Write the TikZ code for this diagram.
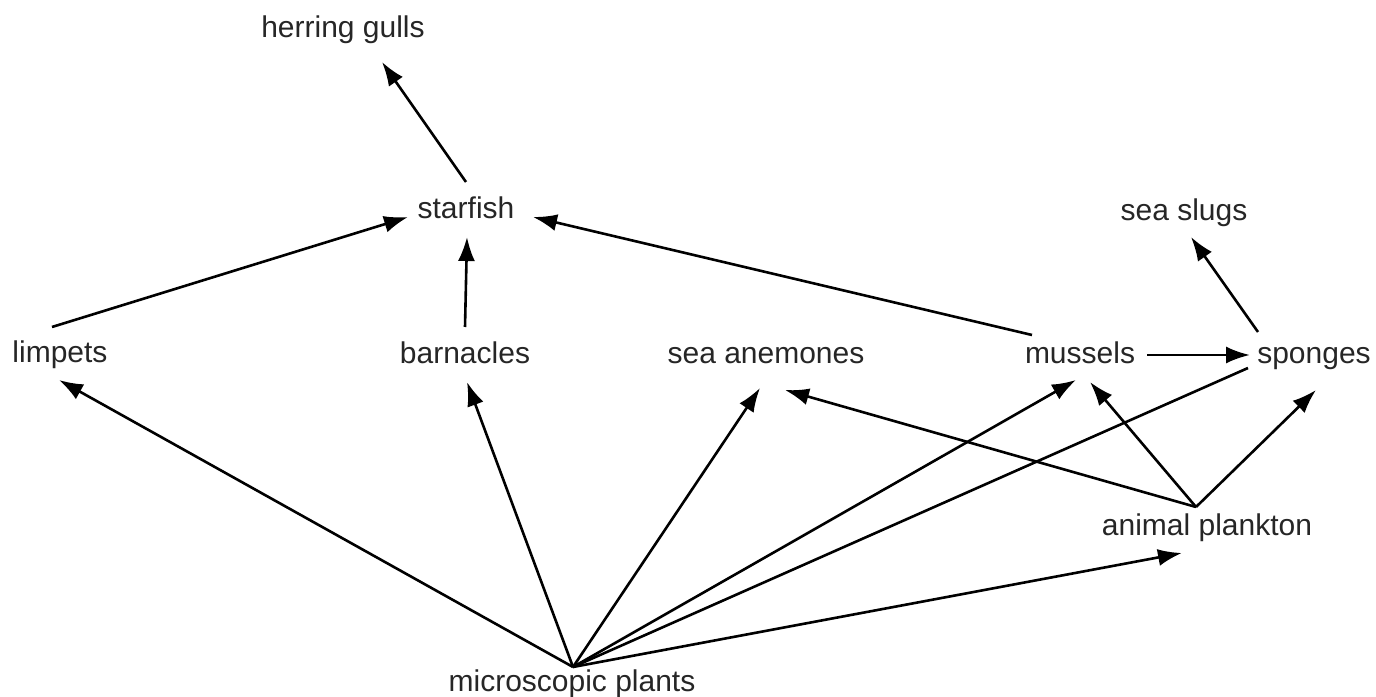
\documentclass[tikz,border=0pt]{standalone}
\usepackage{fontspec}
\setmainfont{Liberation Sans}
\usepackage{tikz}
\usetikzlibrary{positioning,arrows.meta}

\begin{document}
\begin{tikzpicture}[>={Latex[length=12bp,width=8.5bp]},line join=bevel,line width=1.3bp,
  every node/.style={font=\fontsize{15bp}{18bp}\selectfont,text=black!85,inner sep=0pt,text height=11bp,text depth=3bp}]
%%
\useasboundingbox (0bp,0bp) rectangle (688bp,348.5bp);
\node (gulls) at (171.5bp,333.5bp) [draw,draw=none] {herring gulls};
  \node (starfish) at (233bp,243bp) [draw,draw=none] {starfish};
  \node (slugs) at (592bp,242bp) [draw,draw=none] {sea slugs};
  \node (limpets) at (30bp,171bp) [draw,draw=none] {limpets};
  \node (barnacles) at (232.5bp,170.5bp) [draw,draw=none] {barnacles};
  \node (anemones) at (383bp,170.5bp) [draw,draw=none] {sea anemones};
  \node (mussels) at (540bp,170.5bp) [draw,draw=none] {mussels};
  \node (sponges) at (657bp,170.5bp) [draw,draw=none] {sponges};
  \node (plankton) at (603.5bp,84.5bp) [draw,draw=none] {animal plankton};
  \node (plants) at (286bp,7bp) [draw,draw=none] {microscopic plants};
  \draw [black,->] ([yshift=14.5bp]starfish.center) -- ([xshift=19.5bp,yshift=-16bp]gulls.center);
  \draw [black,->] ([xshift=-4bp,yshift=14bp]limpets.center) -- ([xshift=-29bp,yshift=-3bp]starfish.center);
  \draw [black,->] ([yshift=14.5bp]barnacles.center) -- ([xshift=0.5bp,yshift=-13bp]starfish.center);
  \draw [black,->] ([xshift=-24bp,yshift=10.5bp]mussels.center) -- ([xshift=33.5bp,yshift=-3bp]starfish.center);
  \draw [black,->] ([xshift=-28bp,yshift=12bp]sponges.center) -- ([xshift=3.5bp,yshift=-12bp]slugs.center);
  \draw [black,->] ([xshift=33.5bp,yshift=0.5bp]mussels.center) -- ([xshift=-32bp,yshift=0.5bp]sponges.center);
  \draw [black,->] ([xshift=0.5bp,yshift=8bp]plants.center) -- ([xshift=-0.5bp,yshift=-12.5bp]limpets.center);
  \draw [black,->] ([xshift=0.5bp,yshift=8bp]plants.center) -- ([xshift=1bp,yshift=-13bp]barnacles.center);
  \draw [black,->] ([xshift=0.5bp,yshift=8bp]plants.center) -- ([xshift=-3bp,yshift=-16bp]anemones.center);
  \draw [black,->] ([xshift=0.5bp,yshift=8bp]plants.center) -- ([xshift=-2bp,yshift=-12bp]mussels.center);
  \draw [black] ([xshift=0.5bp,yshift=8bp]plants.center) -- ([xshift=-33bp,yshift=-6bp]sponges.center);
  \draw [black,->] ([xshift=0.5bp,yshift=8bp]plants.center) -- ([xshift=-12.5bp,yshift=-12.5bp]plankton.center);
  \draw [black,->] ([xshift=-5.5bp,yshift=10.5bp]plankton.center) -- ([xshift=9.5bp,yshift=-17bp]anemones.center);
  \draw [black,->] ([xshift=-5.5bp,yshift=10.5bp]plankton.center) -- ([xshift=5bp,yshift=-13bp]mussels.center);
  \draw [black,->] ([xshift=-5.5bp,yshift=10.5bp]plankton.center) -- ([xshift=1bp,yshift=-17bp]sponges.center);
%
\end{tikzpicture}
\end{document}
